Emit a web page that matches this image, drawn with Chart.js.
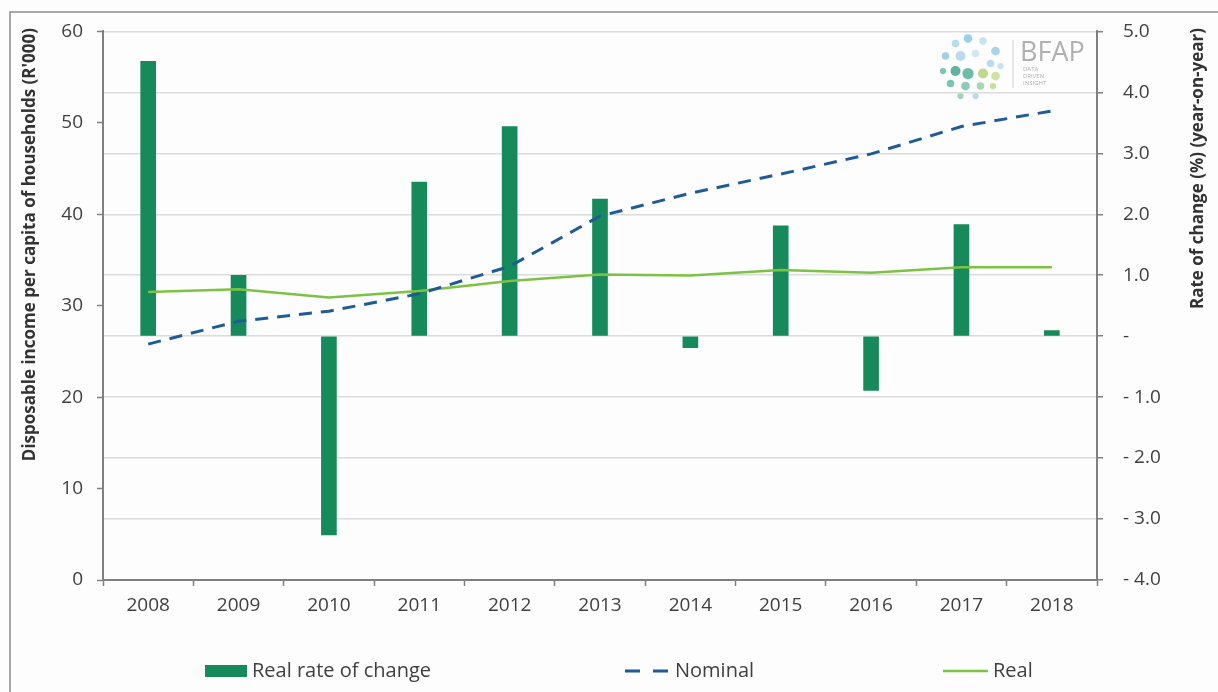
<!DOCTYPE html>
<html>
<head>
<meta charset="utf-8">
<script src="https://cdn.jsdelivr.net/npm/chart.js@4/dist/chart.umd.min.js"></script>
<style>
  body { margin: 0; background: #fdfdfd; }
  #wrap { width: 1218px; height: 692px; position: relative; }
</style>
</head>
<body>
<div id="wrap"><canvas id="incomeChart" width="1218" height="692"></canvas></div>
<script>
const years = ['2008', '2009', '2010', '2011', '2012', '2013', '2014', '2015', '2016', '2017', '2018'];
const realRateOfChange = [4.51, 1.0, -3.26, 2.53, 3.44, 2.25, -0.19, 1.81, -0.89, 1.83, 0.09];
const nominalIncome = [25.8, 28.3, 29.4, 31.3, 34.3, 39.8, 42.3, 44.4, 46.6, 49.6, 51.3];
const realIncome = [31.5, 31.8, 30.9, 31.6, 32.7, 33.4, 33.3, 33.9, 33.6, 34.2, 34.2];

const leftTitle = "Disposable income per capita of households (R'000)";
const rightTitle = 'Rate of change (%) (year-on-year)';

const FONT = "'Open Sans', 'DejaVu Sans', sans-serif";
const AXIS_GREY = '#808080';
const TEXT_GREY = '#404040';

// frame, axis titles, logo and the spaced-out legend
const decorPlugin = {
    id: 'decor',
    beforeDraw(chart) {
        const ctx = chart.ctx;
        ctx.save();
        ctx.fillStyle = '#fdfdfd';
        ctx.fillRect(0, 0, chart.width, chart.height);
        ctx.strokeStyle = '#8a8a8a';
        ctx.lineWidth = 1.5;
        ctx.beginPath();
        ctx.moveTo(10, chart.height + 5);
        ctx.lineTo(10, 12);
        ctx.lineTo(chart.width + 5, 12);
        ctx.stroke();

        // BFAP logo
        const dots = [
            [-14, -18, 3, '#b8dcec'], [-4, -22, 3.5, '#9fcfe4'], [8, -20, 3, '#c6e3ef'], [18, -12, 3.5, '#a8d4e8'],
            [-22, -8, 3, '#9fcfe4'], [-10, -8, 4, '#b8dcec'], [2, -10, 3, '#d0e8f2'], [14, -2, 3, '#b8dcec'],
            [22, 0, 2.5, '#c6e3ef'], [-24, 4, 2.5, '#7cc4b4'], [-14, 4, 4, '#5fb39f'], [-4, 6, 4.5, '#6dbba8'],
            [8, 6, 4, '#bcd98e'], [18, 8, 3.5, '#cde3a0'], [-18, 14, 3, '#7cc4b4'], [-6, 16, 3.5, '#8ccbbb'],
            [6, 16, 3, '#a9d6b0'], [16, 16, 2.5, '#c4e09a'], [-10, 24, 2.5, '#a0d3c6'], [2, 24, 2.5, '#b8dcec']
        ];
        const k = 1.25;
        dots.forEach(([dx, dy, r, c]) => {
            ctx.fillStyle = c;
            ctx.beginPath();
            ctx.arc(973 + dx * k, 66 + dy * k, r * k, 0, Math.PI * 2);
            ctx.fill();
        });
        ctx.strokeStyle = '#d0d0d0';
        ctx.lineWidth = 1;
        ctx.beginPath();
        ctx.moveTo(1013, 40);
        ctx.lineTo(1013, 88);
        ctx.stroke();
        ctx.fillStyle = '#b0b0b0';
        ctx.font = `27px ${FONT}`;
        ctx.textAlign = 'left';
        ctx.textBaseline = 'alphabetic';
        ctx.fillText('BFAP', 1020, 61);
        ctx.font = `6px ${FONT}`;
        ctx.fillText('DATA', 1023, 71);
        ctx.fillText('DRIVEN', 1023, 78);
        ctx.fillText('INSIGHT', 1023, 85);
        ctx.restore();
    },
    afterDraw(chart) {
        const ctx = chart.ctx;
        ctx.save();
        ctx.fillStyle = '#333333';
        ctx.font = `bold 17px ${FONT}`;
        ctx.textAlign = 'right';
        ctx.textBaseline = 'middle';
        [[30, leftTitle], [1198, rightTitle]].forEach(([x, t]) => {
            ctx.save();
            ctx.translate(x, 28);
            ctx.rotate(-Math.PI / 2);
            ctx.fillText(t, 0, 0);
            ctx.restore();
        });

        // legend
        const ds = chart.data.datasets;
        const ly = 671;
        ctx.font = `20px ${FONT}`;
        ctx.textAlign = 'left';

        ctx.fillStyle = ds[0].backgroundColor;
        ctx.fillRect(205, ly - 6, 42, 12);
        ctx.fillStyle = TEXT_GREY;
        ctx.fillText(ds[0].label, 252, ly);

        ctx.strokeStyle = ds[1].borderColor;
        ctx.lineWidth = 3;
        ctx.setLineDash([15, 13]);
        ctx.beginPath();
        ctx.moveTo(625, ly);
        ctx.lineTo(669, ly);
        ctx.stroke();
        ctx.setLineDash([]);
        ctx.fillText(ds[1].label, 675, ly);

        ctx.strokeStyle = ds[2].borderColor;
        ctx.lineWidth = 2.5;
        ctx.beginPath();
        ctx.moveTo(943, ly);
        ctx.lineTo(988, ly);
        ctx.stroke();
        ctx.fillText(ds[2].label, 993, ly);
        ctx.restore();
    }
};

const rateLabel = (v) => {
    if (Math.abs(v) < 1e-9) return '-';
    if (v < 0) return '- ' + Math.abs(v).toFixed(1);
    return v.toFixed(1);
};

new Chart(document.getElementById('incomeChart'), {
    type: 'bar',
    data: {
        labels: years,
        datasets: [
            {
                type: 'bar',
                label: 'Real rate of change',
                data: realRateOfChange,
                yAxisID: 'y1',
                backgroundColor: '#178a5c',
                barThickness: 15,
                order: 3
            },
            {
                type: 'line',
                label: 'Nominal',
                data: nominalIncome,
                yAxisID: 'y',
                borderColor: '#1f5b96',
                borderWidth: 3,
                borderDash: [13, 9],
                pointRadius: 0,
                tension: 0,
                order: 1
            },
            {
                type: 'line',
                label: 'Real',
                data: realIncome,
                yAxisID: 'y',
                borderColor: '#7dc242',
                borderWidth: 2.5,
                pointRadius: 0,
                tension: 0,
                order: 2
            }
        ]
    },
    options: {
        responsive: false,
        animation: false,
        layout: { padding: { top: 30, left: 0, right: 0, bottom: 0 } },
        plugins: {
            legend: { display: false },
            tooltip: { enabled: false }
        },
        scales: {
            x: {
                offset: true,
                grid: { offset: true, drawOnChartArea: false, tickLength: 6, tickColor: AXIS_GREY, tickWidth: 1.5 },
                border: { color: AXIS_GREY, width: 2 },
                ticks: { color: TEXT_GREY, font: { family: FONT, size: 19 }, padding: 8, maxRotation: 0 },
                afterFit: (s) => { s.height = 112; }
            },
            y: {
                position: 'left',
                min: 0,
                max: 60,
                ticks: { stepSize: 10, color: TEXT_GREY, font: { family: FONT, size: 19 }, padding: 14 },
                grid: { drawOnChartArea: false, tickLength: 6, tickColor: AXIS_GREY, tickWidth: 1.5 },
                border: { color: AXIS_GREY, width: 2 },
                afterFit: (s) => { s.width = 103; }
            },
            y1: {
                position: 'right',
                min: -4,
                max: 5,
                ticks: { stepSize: 1, color: TEXT_GREY, font: { family: FONT, size: 19 }, padding: 20, callback: rateLabel },
                grid: { color: '#dcdcdc', lineWidth: 1.5, tickLength: 6, tickColor: AXIS_GREY, tickWidth: 1.5 },
                border: { color: AXIS_GREY, width: 2 },
                afterFit: (s) => { s.width = 121; }
            }
        }
    },
    plugins: [decorPlugin]
});
</script>
</body>
</html>
